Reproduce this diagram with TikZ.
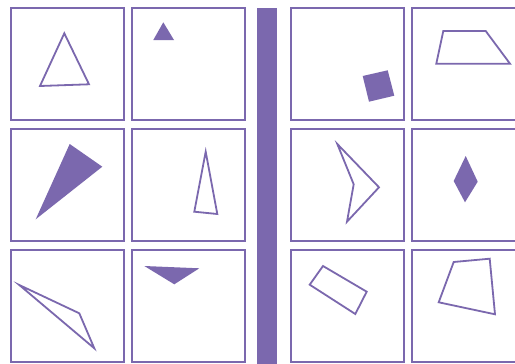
\documentclass[tikz,border=0pt]{standalone}
\definecolor{pp}{RGB}{123,104,174}
\begin{document}
\begin{tikzpicture}[x=1pt,y=-1pt,
  cell/.style={draw=pp,line width=2pt,fill=white},
  hollow/.style={draw=pp,line width=1.8pt,line join=miter},
  solid/.style={fill=pp,draw=none}]
\useasboundingbox (0,0) rectangle (515,364);
\fill[white] (0,0) rectangle (515,364);
% cells
\foreach \x in {10.5,131.5,291,412}{
  \foreach \y in {7.5,128.5,250}{
    \draw[cell] (\x,\y) rectangle ++(113,112);
  }
}
% bar
\fill[pp] (257,8) rectangle (277,370);
% row 1
\draw[hollow] (64.3,33.3) -- (89,84.3) -- (40,86) -- cycle;
\fill[pp] (163.3,22.3) -- (174,40) -- (153.3,40) -- cycle;
\fill[pp] (362.7,76) -- (387.7,70.3) -- (394.3,95.7) -- (369,101.7) -- cycle;
\draw[hollow] (443.3,31) -- (485.7,31) -- (510,63.7) -- (436.3,63.7) -- cycle;
% row 2
\fill[pp] (69.7,144) -- (102.3,166.7) -- (35.7,219.3) -- cycle;
\draw[hollow] (205.7,151.7) -- (217.3,214) -- (194.3,211.7) -- cycle;
\draw[hollow] (337.3,144) -- (379,187.3) -- (347,221.7) -- (353.7,184.3) -- cycle;
\fill[pp] (465.7,156) -- (477.7,181.7) -- (465,202.3) -- (453.7,181) -- cycle;
% row 3
\draw[hollow] (19.3,285) -- (79.3,313.3) -- (94.3,348.3) -- cycle;
\fill[pp] (144.3,266) -- (199.3,268.3) -- (174.3,284.3) -- cycle;
\draw[hollow] (323,266) -- (366.7,291.7) -- (355.3,314) -- (309.7,284.7) -- cycle;
\draw[hollow] (453.7,262) -- (489.7,258.7) -- (495,314.3) -- (438.7,302.3) -- cycle;
\end{tikzpicture}
\end{document}
